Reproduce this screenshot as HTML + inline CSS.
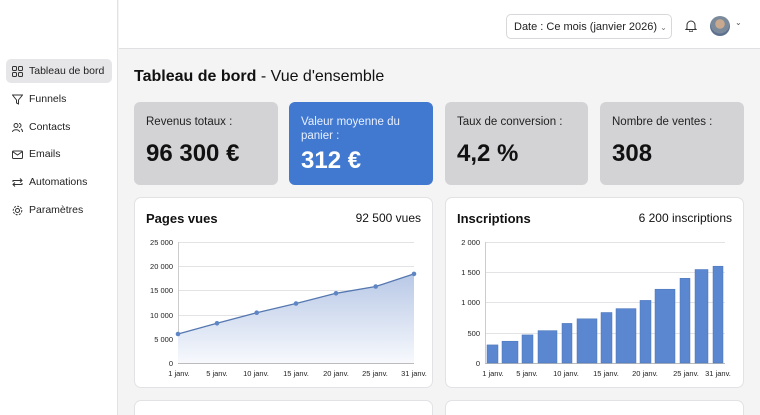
<!DOCTYPE html>
<html style="width:760px;height:415px;overflow:hidden"><head><meta charset="utf-8"><style>
*{margin:0;padding:0;box-sizing:border-box}
body{width:760px;height:415px;overflow:hidden;font-family:"Liberation Sans",sans-serif;background:#f4f4f5;position:relative;color:#111}
.side{position:absolute;left:0;top:0;width:118px;height:415px;background:#fff;border-right:1px solid #e2e2e4}
.hdr{position:absolute;left:119px;top:0;right:0;height:49px;background:#fff;border-bottom:1px solid #e0e0e2}
.nav{position:absolute;left:6px;width:106px;height:24px;font-size:10.5px;color:#222;display:flex;align-items:center;padding-left:6px;gap:6px}
.nav.act{background:#e6e6e9;border-radius:5px}
.ic{width:11px;height:11px;display:inline-block}
.kpi{position:absolute;top:102px;width:144px;height:83px;border-radius:6px;background:#d3d3d6;padding:14px 12px}
.kpi .l{font-size:11.5px;color:#222}
.kpi .v{font-size:24px;font-weight:bold;margin-top:12px}
.card{position:absolute;background:#fff;border:1px solid #e2e2e4;border-radius:7px}
.ct{position:absolute;top:13px;left:11px;font-size:13px;font-weight:bold}
.cr{position:absolute;top:13px;right:11px;font-size:12px}
</style></head><body>
<div class="side">
 <div class="nav act" style="top:59px"><svg class="ic" viewBox="0 0 11 11" fill="none" stroke="#333" stroke-width="1"><rect x=".5" y=".5" width="4" height="4" rx="1"/><rect x="6.5" y=".5" width="4" height="4" rx="1"/><rect x=".5" y="6.5" width="4" height="4" rx="1"/><rect x="6.5" y="6.5" width="4" height="4" rx="1"/></svg>Tableau de bord</div>
 <div class="nav" style="top:87px"><svg class="ic" viewBox="0 0 11 11" fill="none" stroke="#333"><path d="M.5 1h10L6.5 6v4l-2-1V6z"/></svg>Funnels</div>
 <div class="nav" style="top:115px"><svg class="ic" viewBox="0 0 11 11" fill="none" stroke="#333"><circle cx="4" cy="3.5" r="2"/><path d="M.5 10c0-3 7-3 7 0M7 1.5a2 2 0 010 4M9 7c1 .5 1.5 1.5 1.5 3"/></svg>Contacts</div>
 <div class="nav" style="top:142px"><svg class="ic" viewBox="0 0 11 11" fill="none" stroke="#333"><rect x=".5" y="2" width="10" height="7.5" rx="1"/><path d="M.5 2.5l5 3.5 5-3.5"/></svg>Emails</div>
 <div class="nav" style="top:170px"><svg class="ic" viewBox="0 0 11 11" fill="none" stroke="#333"><path d="M1 5V3.5h9M8 1.5l2 2-2 2M10 6v1.5H1M3 9.5l-2-2 2-2"/></svg>Automations</div>
 <div class="nav" style="top:198px"><svg class="ic" viewBox="0 0 11 11" fill="none" stroke="#333"><circle cx="5.5" cy="5.5" r="2"/><circle cx="5.5" cy="5.5" r="4.3" stroke-dasharray="2 1.3"/></svg>Paramètres</div>
</div>
<div class="hdr">
 <div style="position:absolute;left:387px;top:14px;width:166px;height:25px;border:1px solid #d8d8db;border-radius:5px;font-size:11px;padding:6px 7px;color:#222;white-space:nowrap">Date : Ce mois (janvier 2026) <span style="font-size:8px;color:#777">⌄</span></div>
 <svg style="position:absolute;left:566px;top:19px" width="12" height="13" viewBox="0 0 12 13" fill="none" stroke="#333"><path d="M2 9.5V6a4 4 0 018 0v3.5l1 1H1z M4.5 11.5a1.5 1.5 0 003 0"/></svg>
 <div style="position:absolute;left:591px;top:16px;width:20px;height:20px;border-radius:50%;background:radial-gradient(circle at 50% 40%,#c9a890 0 30%,#7a8a9a 31% 60%,#5d7090 61%)"></div>
 <div style="position:absolute;left:616px;top:18px;font-size:8px;color:#555">⌄</div>
</div>
<div style="position:absolute;left:134px;top:68px;font-size:16px"><b>Tableau de bord</b> - Vue d'ensemble</div>
<div class="kpi" style="left:134px"><div class="l">Revenus totaux :</div><div class="v">96 300 €</div></div>
<div class="kpi" style="left:289px;background:#4179d0;color:#fff;padding-top:13px"><div class="l" style="color:#e8efff;line-height:14px">Valeur moyenne du<br>panier :</div><div class="v" style="margin-top:4px;color:#fff">312 €</div></div>
<div class="kpi" style="left:445px;width:143px"><div class="l">Taux de conversion :</div><div class="v">4,2 %</div></div>
<div class="kpi" style="left:600px"><div class="l">Nombre de ventes :</div><div class="v">308</div></div>

<div class="card" style="left:134px;top:197px;width:299px;height:191px"><div class="ct">Pages vues</div><div class="cr">92 500 vues</div></div>
<div class="card" style="left:445px;top:197px;width:299px;height:191px"><div class="ct">Inscriptions</div><div class="cr">6 200 inscriptions</div></div>
<div class="card" style="left:134px;top:400px;width:299px;height:15px;border-bottom:none;border-radius:7px 7px 0 0"></div>
<div class="card" style="left:445px;top:400px;width:299px;height:15px;border-bottom:none;border-radius:7px 7px 0 0"></div>

<svg style="position:absolute;left:0;top:0" width="760" height="415" font-family="Liberation Sans,sans-serif" font-size="7.5" fill="#222">
<defs><linearGradient id="g" x1="0" y1="0" x2="0" y2="1"><stop offset="0" stop-color="#b8c8e6"/><stop offset="1" stop-color="#f7f9fd"/></linearGradient></defs>
<g stroke="#e3e3e6" stroke-width="1">
<line x1="178" x2="414" y1="242.5" y2="242.5"/><line x1="178" x2="414" y1="266.5" y2="266.5"/><line x1="178" x2="414" y1="290.5" y2="290.5"/><line x1="178" x2="414" y1="315.5" y2="315.5"/><line x1="178" x2="414" y1="339.5" y2="339.5"/>
<line x1="485" x2="725" y1="242.5" y2="242.5"/><line x1="485" x2="725" y1="272.5" y2="272.5"/><line x1="485" x2="725" y1="302.5" y2="302.5"/><line x1="485" x2="725" y1="333.5" y2="333.5"/>
</g>
<line x1="178.5" x2="178.5" y1="242" y2="363" stroke="#ccc"/><line x1="178" x2="414" y1="363.5" y2="363.5" stroke="#bbb"/>
<line x1="485.5" x2="485.5" y1="242" y2="363" stroke="#ccc"/><line x1="485" x2="725" y1="363.5" y2="363.5" stroke="#bbb"/>
<g text-anchor="end"><text x="173" y="245">25 000</text><text x="173" y="269">20 000</text><text x="173" y="293">15 000</text><text x="173" y="318">10 000</text><text x="173" y="342">5 000</text><text x="173" y="366">0</text>
<text x="480" y="245">2 000</text><text x="480" y="275">1 500</text><text x="480" y="305">1 000</text><text x="480" y="336">500</text><text x="480" y="366">0</text></g>
<path d="M178 334 L217 323.3 L256.7 312.7 L296 303.5 L336 293.3 L375.7 286.5 L414 273.9 L414 363 L178 363Z" fill="url(#g)"/>
<polyline points="178,334 217,323.3 256.7,312.7 296,303.5 336,293.3 375.7,286.5 414,273.9" fill="none" stroke="#5578b0" stroke-width="1.3"/>
<g fill="#5f86c4"><circle cx="178" cy="334" r="2.3"/><circle cx="217" cy="323.3" r="2.3"/><circle cx="256.7" cy="312.7" r="2.3"/><circle cx="296" cy="303.5" r="2.3"/><circle cx="336" cy="293.3" r="2.3"/><circle cx="375.7" cy="286.5" r="2.3"/><circle cx="414" cy="273.9" r="2.3"/></g>
<g text-anchor="middle"><text x="179" y="376">1 janv.</text><text x="217" y="376">5 janv.</text><text x="256" y="376">10 janv.</text><text x="296" y="376">15 janv.</text><text x="336" y="376">20 janv.</text><text x="375" y="376">25 janv.</text><text x="414" y="376">31 janv.</text>
<text x="493" y="376">1 janv.</text><text x="527" y="376">5 janv.</text><text x="566" y="376">10 janv.</text><text x="606" y="376">15 janv.</text><text x="645" y="376">20 janv.</text><text x="686" y="376">25 janv.</text><text x="718" y="376">31 janv.</text></g>
<g fill="#5b87d0" stroke="#4a74b8" stroke-width=".5">
<rect x="487" y="344.9" width="11" height="18.1"/><rect x="502" y="341.2" width="16" height="21.8"/><rect x="522" y="334.9" width="11" height="28.1"/><rect x="538" y="330.6" width="19" height="32.4"/><rect x="562" y="323.4" width="10" height="39.6"/><rect x="577" y="318.8" width="20" height="44.2"/><rect x="601" y="312.5" width="11" height="50.5"/><rect x="616" y="308.6" width="20" height="54.4"/><rect x="640" y="300.4" width="11" height="62.6"/><rect x="655" y="289.2" width="20" height="73.8"/><rect x="680" y="278.3" width="10" height="84.7"/><rect x="695" y="269.5" width="13" height="93.5"/><rect x="713" y="266.2" width="10" height="96.8"/>
</g>
</svg>
</body></html>
